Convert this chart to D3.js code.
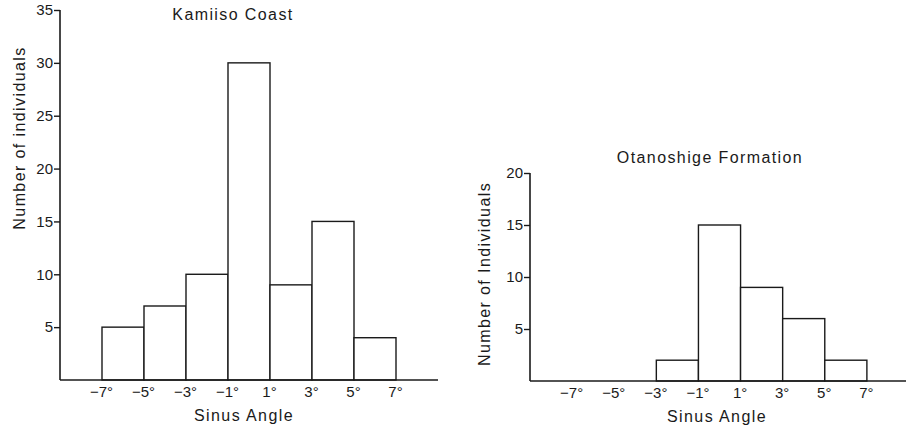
<!DOCTYPE html>
<html>
<head>
<meta charset="utf-8">
<script src="https://cdn.jsdelivr.net/npm/d3@7"></script>
<style>
  body { margin: 0; background: #fff; }
  svg { display: block; }
  text { font-family: "Liberation Sans", Arial, sans-serif; fill: #1a1a1a; }
  .label { font-size: 16px; letter-spacing: 1.4px; }
</style>
</head>
<body>
<svg width="906" height="431"></svg>
<script>
// bin edges (degrees) and their labels
const binEdges = [-7, -5, -3, -1, 1, 3, 5, 7];
const edgeLabels = ["\u22127\u00b0", "\u22125\u00b0", "\u22123\u00b0", "\u22121\u00b0", "1\u00b0", "3\u00b0", "5\u00b0", "7\u00b0"];

// counts per 2-degree bin, from -7..-5 up to 5..7
const kamiisoCounts = [5, 7, 10, 30, 9, 15, 4];
const otanoshigeCounts = [0, 0, 2, 15, 9, 6, 2];

const kamiisoTicks = [5, 10, 15, 20, 25, 30, 35];
const otanoshigeTicks = [5, 10, 15, 20];

const svg = d3.select("svg");
const ink = "#1a1a1a";

function drawPanel(opts) {
    const x = d3.scaleLinear().domain([-9, 9]).range([opts.left, opts.right]);
    const y = d3.scaleLinear().domain([0, opts.yMax]).range([opts.bottom, opts.top]);

    const g = svg.append("g");

    // bars, one per bin
    const bins = opts.counts.map((c, i) => ({ x0: binEdges[i], x1: binEdges[i + 1], n: c }))
        .filter(d => d.n > 0);

    g.selectAll("rect")
        .data(bins)
        .enter().append("rect")
        .attr("x", d => x(d.x0))
        .attr("y", d => y(d.n))
        .attr("width", d => x(d.x1) - x(d.x0))
        .attr("height", d => y(0) - y(d.n))
        .attr("fill", "#fff")
        .attr("stroke", ink)
        .attr("stroke-width", 1.4);

    // y axis
    const yAxis = g.append("g")
        .attr("transform", `translate(${opts.left},0)`)
        .call(d3.axisLeft(y).tickValues(opts.ticks).tickSize(6).tickPadding(1).tickSizeOuter(0));
    yAxis.select(".domain").remove();
    yAxis.selectAll(".tick line").attr("stroke", ink).attr("stroke-width", 1.4);
    yAxis.selectAll(".tick text")
        .style("font-size", "15px")
        .style("font-family", "'Liberation Sans', Arial, sans-serif")
        .style("fill", ink);
    g.append("line")
        .attr("x1", opts.left).attr("x2", opts.left)
        .attr("y1", y(opts.yMax)).attr("y2", y(0))
        .attr("stroke", ink).attr("stroke-width", 1.6);

    // x axis: baseline plus labels at the bin edges, no tick marks
    const xAxis = g.append("g")
        .attr("transform", `translate(0,${opts.bottom})`)
        .call(d3.axisBottom(x).tickValues(binEdges).tickSize(0).tickPadding(6)
            .tickFormat((d, i) => edgeLabels[i]));
    xAxis.select(".domain").remove();
    xAxis.selectAll(".tick text")
        .style("font-size", "15px")
        .style("font-family", "'Liberation Sans', Arial, sans-serif")
        .style("fill", ink)
        .attr("dx", "-1");
    g.append("line")
        .attr("x1", opts.left).attr("x2", opts.right)
        .attr("y1", y(0)).attr("y2", y(0))
        .attr("stroke", ink).attr("stroke-width", 1.6);

    // titles
    g.append("text")
        .attr("class", "label")
        .attr("x", opts.titleX).attr("y", opts.titleY)
        .attr("text-anchor", "middle")
        .text(opts.title);

    g.append("text")
        .attr("class", "label")
        .attr("x", opts.xLabelX).attr("y", opts.xLabelY)
        .attr("text-anchor", "middle")
        .text("Sinus Angle");

    g.append("text")
        .attr("class", "label")
        .attr("transform", `translate(${opts.yLabelX},${opts.yLabelY}) rotate(-90)`)
        .attr("text-anchor", "middle")
        .text(opts.yLabel);
}

drawPanel({
    counts: kamiisoCounts, ticks: kamiisoTicks, yMax: 35,
    left: 60, right: 438, top: 10, bottom: 380,
    title: "Kamiiso Coast", titleX: 233, titleY: 20,
    xLabelX: 244, xLabelY: 421,
    yLabel: "Number of individuals", yLabelX: 25, yLabelY: 138
});

drawPanel({
    counts: otanoshigeCounts, ticks: otanoshigeTicks, yMax: 20,
    left: 530, right: 909, top: 173, bottom: 381,
    title: "Otanoshige Formation", titleX: 710, titleY: 163,
    xLabelX: 717, xLabelY: 422,
    yLabel: "Number of Individuals", yLabelX: 490, yLabelY: 274
});
</script>
</body>
</html>
